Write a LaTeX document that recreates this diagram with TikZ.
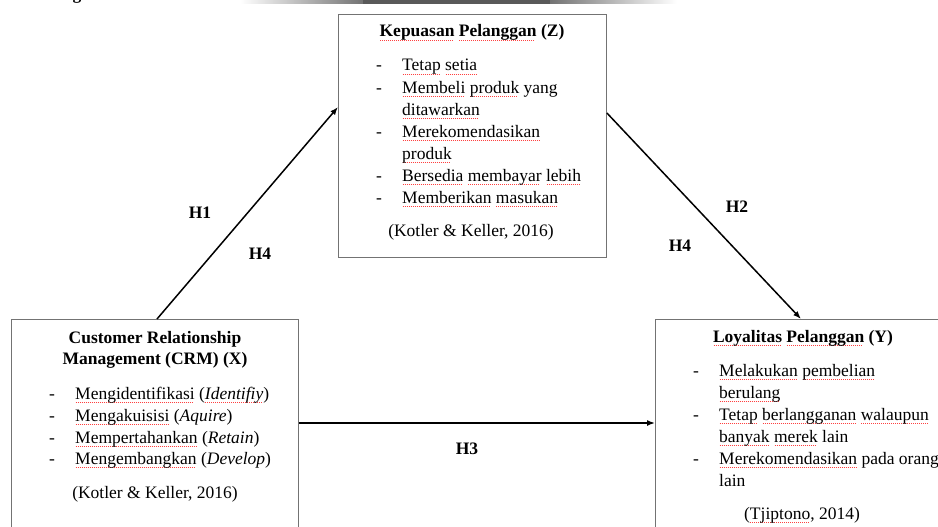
\documentclass[tikz,border=0pt]{standalone}
\usepackage{fontspec}
\setmainfont{Liberation Serif}
\usetikzlibrary{arrows.meta}
% red spell-check squiggle under a word
\newsavebox\sqbox
\newcommand\sq[1]{\sbox\sqbox{#1}\rlap{\color{red!75}\raisebox{-3.5pt}{\hbox to\wd\sqbox{\leaders\hbox to 2pt{\hss\rule{1pt}{0.7pt}\hss}\hfill}}}\usebox\sqbox}
\newcommand\itemdash{\makebox[26pt][l]{-}}
\begin{document}
\begin{tikzpicture}[x=1pt,y=-1pt,
  box/.style={draw=black!55, line width=0.9pt, anchor=north west, inner sep=0pt},
  txt/.style={font=\fontsize{17.5}{22}\selectfont, inner sep=0pt},
  head/.style={txt, font=\fontsize{17.5}{22}\selectfont\bfseries},
  hyp/.style={head, anchor=base},
  arr/.style={-{Latex[length=8pt,width=6pt]}, line width=1.5pt}]
\useasboundingbox (0,0) rectangle (938,527);
\clip (0,0) rectangle (938,527);
% cut-off strip at the top
\node[head, anchor=base] (gtop) at (77,-0.5) {g};
\shade[left color=white, right color=black!55] (240,0) rectangle (363,4);
\fill[black!65] (363,0) rectangle (550,4);
\shade[left color=black!55, right color=white] (550,0) rectangle (677,4);
% boxes
\node[box, minimum width=268pt, minimum height=243pt] (zbox) at (338,14) {};
\node[box, minimum width=287pt, minimum height=240pt] (xbox) at (11,319) {};
\node[box, minimum width=296pt, minimum height=240pt] (ybox) at (655,319) {};
% Z
\node[head, anchor=base] (zhead) at (472,37) {\sq{Kepuasan} \sq{Pelanggan} (Z)};
\node[txt, anchor=base west] (z1) at (376,71) {\itemdash\sq{Tetap} \sq{setia}};
\node[txt, anchor=base west] (z2) at (376,93) {\itemdash\sq{Membeli} \sq{produk} yang};
\node[txt, anchor=base west] (z3) at (402,115) {\sq{ditawarkan}};
\node[txt, anchor=base west] (z4) at (376,137) {\itemdash\sq{Merekomendasikan}};
\node[txt, anchor=base west] (z5) at (402,159) {\sq{produk}};
\node[txt, anchor=base west] (z6) at (376,181) {\itemdash\sq{Bersedia} \sq{membayar} \sq{lebih}};
\node[txt, anchor=base west] (z7) at (376,203) {\itemdash\sq{Memberikan} \sq{masukan}};
\node[txt, anchor=base] (zref) at (471,236) {(Kotler \& Keller, 2016)};
% X
\node[head, anchor=base] (xhead1) at (155,343) {Customer Relationship};
\node[head, anchor=base] (xhead2) at (155,364) {Management (CRM) (X)};
\node[txt, anchor=base west] (x1) at (49,399) {\itemdash\sq{Mengidentifikasi} (\textit{\sq{Identifiy}})};
\node[txt, anchor=base west] (x2) at (49,421) {\itemdash\sq{Mengakuisisi} (\textit{Aquire})};
\node[txt, anchor=base west] (x3) at (49,443) {\itemdash\sq{Mempertahankan} (\textit{Retain})};
\node[txt, anchor=base west] (x4) at (49,464) {\itemdash\sq{Mengembangkan} (\textit{Develop})};
\node[txt, anchor=base] (xref) at (155,498) {(Kotler \& Keller, 2016)};
% Y
\node[head, anchor=base] (yhead) at (803,342) {\sq{Loyalitas} \sq{Pelanggan} (Y)};
\node[txt, anchor=base west] (y1) at (693,376) {\itemdash\sq{Melakukan} \sq{pembelian}};
\node[txt, anchor=base west] (y2) at (719,398) {\sq{berulang}};
\node[txt, anchor=base west] (y3) at (693,420) {\itemdash\sq{Tetap} \sq{berlangganan} \sq{walaupun}};
\node[txt, anchor=base west] (y4) at (719,442) {\sq{banyak} \sq{merek} lain};
\node[txt, anchor=base west] (y5) at (693,464) {\itemdash\sq{Merekomendasikan} pada orang};
\node[txt, anchor=base west] (y6) at (719,486) {lain};
\node[txt, anchor=base] (yref) at (802,519) {(\sq{Tjiptono}, 2014)};
% arrows
\draw[arr] ([xshift=146pt]xbox.north west) -- ([yshift=-93pt]zbox.north west);
\draw[arr] ([yshift=-99pt]zbox.north east) -- ([xshift=146pt]ybox.north west);
\draw[arr] ([yshift=-104pt]xbox.north east) -- ([yshift=-104pt]ybox.north west);
% hypothesis labels
\node[hyp] (h1) at (200,218) {H1};
\node[hyp] (h4a) at (260,259) {H4};
\node[hyp] (h2) at (737,212) {H2};
\node[hyp] (h4b) at (680,251) {H4};
\node[hyp] (h3) at (467,454) {H3};
\end{tikzpicture}
\end{document}
